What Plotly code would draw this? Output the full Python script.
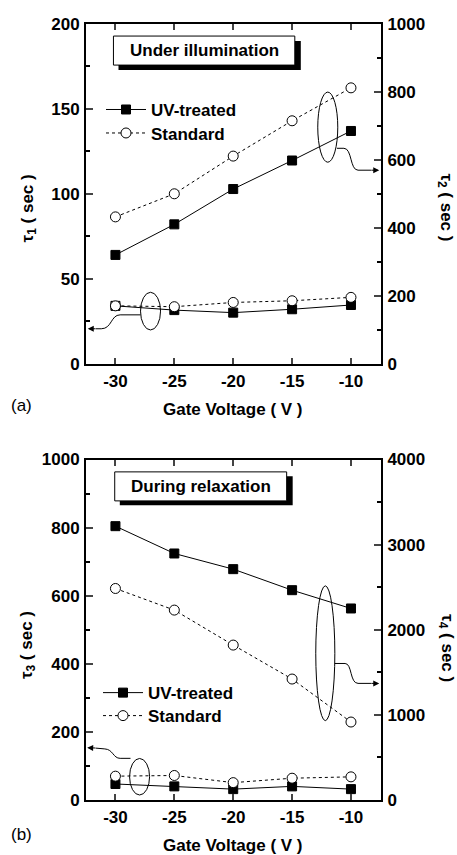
import plotly.graph_objects as go

# ---------------- data ----------------
gate_voltage = [-30, -25, -20, -15, -10]

# panel (a): under illumination
tau1_uv = [34, 31.5, 30, 32, 34.5]      # left axis
tau1_std = [34, 33.5, 36, 37, 39]
tau2_uv = [320, 410, 514, 598, 685]      # right axis
tau2_std = [432, 500, 611, 715, 812]

# panel (b): during relaxation
tau3_uv = [47, 40, 32, 40, 32]           # left axis
tau3_std = [70, 72, 51, 64, 68]
tau4_uv = [3217, 2896, 2712, 2465, 2250] # right axis
tau4_std = [2485, 2231, 1820, 1421, 916]

x_ticks = [-30, -25, -20, -15, -10]
x_ticklabels = ["-30", "-25", "-20", "-15", "-10"]
y1_ticks = [0, 50, 100, 150, 200]
y2_ticks = [0, 200, 400, 600, 800, 1000]
y3_ticks = [0, 200, 400, 600, 800, 1000]
y4_ticks = [0, 1000, 2000, 3000, 4000]

FONT = "Liberation Sans"
W, H = 457, 855
ML, MR, MT, MB = 86, 76, 23.5, 55
PH = H - MT - MB
PW = W - ML - MR


def py2paper(py):  # screen px -> paper
    return min(1.0, max(-1.0, (H - MB - py) / PH))


def px2paper(px):
    return (px - ML) / PW


uv_line = dict(color="black", width=1)
std_line = dict(color="black", width=1, dash="dot")
uv_marker = dict(symbol="square", size=9, color="black", line=dict(color="black", width=1))
std_marker = dict(symbol="circle", size=10, color="white", line=dict(color="black", width=1))

fig = go.Figure()

# panel (a)
fig.add_trace(go.Scatter(x=gate_voltage, y=tau2_uv, mode="lines+markers", name="UV-treated",
                         line=uv_line, marker=uv_marker, xaxis="x", yaxis="y2", legend="legend"))
fig.add_trace(go.Scatter(x=gate_voltage, y=tau2_std, mode="lines+markers", name="Standard",
                         line=std_line, marker=std_marker, xaxis="x", yaxis="y2", legend="legend3"))
fig.add_trace(go.Scatter(x=gate_voltage, y=tau1_uv, mode="lines+markers", name="UV-treated",
                         line=uv_line, marker=uv_marker, xaxis="x", yaxis="y", showlegend=False))
fig.add_trace(go.Scatter(x=gate_voltage, y=tau1_std, mode="lines+markers", name="Standard",
                         line=std_line, marker=std_marker, xaxis="x", yaxis="y", showlegend=False))

# panel (b)
fig.add_trace(go.Scatter(x=gate_voltage, y=tau4_uv, mode="lines+markers", name="UV-treated",
                         line=uv_line, marker=uv_marker, xaxis="x2", yaxis="y4", legend="legend2"))
fig.add_trace(go.Scatter(x=gate_voltage, y=tau4_std, mode="lines+markers", name="Standard",
                         line=std_line, marker=std_marker, xaxis="x2", yaxis="y4", legend="legend4"))
fig.add_trace(go.Scatter(x=gate_voltage, y=tau3_uv, mode="lines+markers", name="UV-treated",
                         line=uv_line, marker=uv_marker, xaxis="x2", yaxis="y3", showlegend=False))
fig.add_trace(go.Scatter(x=gate_voltage, y=tau3_std, mode="lines+markers", name="Standard",
                         line=std_line, marker=std_marker, xaxis="x2", yaxis="y3", showlegend=False))

tickfont = dict(family=FONT, size=17, color="black", weight="bold")


def bold(vals):
    return ["<b>%s</b>" % v for v in vals]


dom_a = [py2paper(363.3), 1.0]
dom_b = [0.0, py2paper(459.3)]


def xax(anchor):
    return dict(domain=[0, 1], anchor=anchor, range=[-32.5, -7.45], tickvals=x_ticks,
                ticktext=bold(x_ticklabels),
                ticks="inside", ticklen=6, tickwidth=1.5, showline=True, linewidth=2,
                linecolor="black", mirror="ticks", showgrid=False, zeroline=False,
                tickfont=tickfont, ticklabelstandoff=1)


def yax(domain, rng, tvals, minor, side="left", overlaying=None, anchor=None):
    d = dict(domain=domain, range=rng, tickvals=tvals, ticktext=bold(tvals),
             ticks="inside", ticklen=7,
             tickwidth=1.5, showline=True, linewidth=2, linecolor="black", showgrid=False,
             zeroline=False, tickfont=tickfont, side=side, ticklabelstandoff=1,
             minor=dict(dtick=minor, tick0=0, ticks="inside", ticklen=4, tickwidth=1.5,
                        tickcolor="black", showgrid=False))
    if overlaying:
        d["overlaying"] = overlaying
    if anchor:
        d["anchor"] = anchor
    return d


legend_font = dict(family=FONT, size=17, color="black", weight="bold")


def leg(px, py):
    return dict(x=px2paper(px), y=py2paper(py), xanchor="left", yanchor="middle",
                bgcolor="rgba(0,0,0,0)", font=legend_font, itemwidth=40, tracegroupgap=0)


fig.update_layout(
    width=W, height=H,
    margin=dict(l=ML, r=MR, t=MT, b=MB),
    paper_bgcolor="white", plot_bgcolor="white",
    font=dict(family=FONT, color="black"),
    xaxis=xax("y"),
    xaxis2=xax("y3"),
    yaxis=yax(dom_a, [0, 200], y1_ticks, 25, anchor="x"),
    yaxis2=yax(dom_a, [0, 1000], y2_ticks, 100, side="right", overlaying="y", anchor="x"),
    yaxis3=yax(dom_b, [0, 1000], y3_ticks, 100, anchor="x2"),
    yaxis4=yax(dom_b, [0, 4000], y4_ticks, 500, side="right", overlaying="y3", anchor="x2"),
    legend=leg(101, 109.5),
    legend3=leg(101, 133),
    legend2=leg(98, 693),
    legend4=leg(98, 716),
)

shapes = []
annotations = []

# text boxes with drop shadow
for xr, yr, sh, wb, txt, tx, ty in [
    ("x", "y", (-29.74, 172.9, -14.26, 190.0), (-30.17, 175.8, -14.77, 192.9),
     "Under illumination", -22.45, 184.4),
    ("x2", "y3", (-29.63, 865.9, -14.95, 951.0), (-30.06, 878.5, -15.46, 963.7),
     "During relaxation", -22.76, 921.0),
]:
    shapes.append(dict(type="rect", xref=xr, yref=yr, x0=sh[0], y0=sh[1], x1=sh[2], y1=sh[3],
                       fillcolor="black", line=dict(width=0)))
    shapes.append(dict(type="rect", xref=xr, yref=yr, x0=wb[0], y0=wb[1], x1=wb[2], y1=wb[3],
                       fillcolor="white", line=dict(color="black", width=1)))
    annotations.append(dict(xref=xr, yref=yr, x=tx, y=ty, text=txt, showarrow=False,
                            xanchor="center", yanchor="middle",
                            font=dict(family=FONT, size=17, color="black", weight="bold")))

# ellipses
for xr, yr, x0, x1, y0, y1 in [
    ("x", "y", -12.82, -11.12, 118.6, 159.9),
    ("x", "y", -27.87, -26.17, 19.8, 42.0),
    ("x2", "y3", -12.99, -11.37, 233, 629),
    ("x2", "y3", -28.80, -27.10, 14.7, 122),
]:
    shapes.append(dict(type="circle", xref=xr, yref=yr, x0=x0, x1=x1, y0=y0, y1=y1,
                       line=dict(color="black", width=1)))

# curved connectors
shapes.append(dict(type="path", xref="x", yref="y",
                   path="M -11.19,126.8 L -10.6,126.8 C -9.9,126.8 -10.1,113.9 -9.4,113.9 L -8.3,113.9",
                   line=dict(color="black", width=1)))
shapes.append(dict(type="path", xref="x", yref="y",
                   path="M -27.87,28.7 L -29.6,28.7 C -30.4,28.7 -30.3,20.5 -31.2,20.5 L -31.7,20.5",
                   line=dict(color="black", width=1)))
shapes.append(dict(type="path", xref="x2", yref="y3",
                   path="M -11.37,401 L -10.5,401 C -9.9,401 -10.1,342.5 -9.4,342.5 L -8.3,342.5",
                   line=dict(color="black", width=1)))
shapes.append(dict(type="path", xref="x2", yref="y3",
                   path="M -28.72,122.4 L -29.6,122.4 C -30.2,122.4 -30.2,148.8 -30.9,150.0 L -31.7,152.5",
                   line=dict(color="black", width=1)))

# arrow heads
for xr, yr, hx, hy, tx, ty in [
    ("x", "y", -7.6, 113.9, -8.4, 113.9),
    ("x", "y", -32.35, 20.5, -31.6, 20.5),
    ("x2", "y3", -7.6, 342.5, -8.4, 342.5),
    ("x2", "y3", -32.4, 153.5, -31.6, 152.6),
]:
    annotations.append(dict(xref=xr, yref=yr, x=hx, y=hy, axref=xr, ayref=yr, ax=tx, ay=ty,
                            text="", showarrow=True, arrowhead=2, arrowsize=1.2, arrowwidth=1,
                            arrowcolor="black"))

# axis titles
title_font = dict(family=FONT, size=17, color="black", weight="bold")
for txt, px, py in [("Gate Voltage ( V )", 232.5, 409), ("Gate Voltage ( V )", 232.5, 846)]:
    annotations.append(dict(xref="paper", yref="paper", x=px2paper(px), y=py2paper(py),
                            xanchor="center", yanchor="middle",
                            text=txt, showarrow=False, font=title_font))
for txt, px, py, ang in [
    ("τ<sub>1</sub> ( sec )", 29, 208, -90),
    ("τ<sub>2</sub> ( sec )", 445, 207, 90),
    ("τ<sub>3</sub> ( sec )", 28, 645, -90),
    ("τ<sub>4</sub> ( sec )", 446, 648, 90),
]:
    annotations.append(dict(xref="paper", yref="paper", x=px2paper(px), y=py2paper(py),
                            xanchor="center", yanchor="middle",
                            text=txt, showarrow=False, textangle=ang, font=title_font))

# panel labels
for txt, px, py in [("(a)", 21, 405), ("(b)", 21, 835)]:
    annotations.append(dict(xref="paper", yref="paper", x=px2paper(px), y=py2paper(py),
                            xanchor="center", yanchor="middle",
                            text=txt, showarrow=False,
                            font=dict(family=FONT, size=17, color="black")))

fig.update_layout(shapes=shapes, annotations=annotations)

fig.write_html(
    "out.html",
    config={"displayModeBar": False},
    post_script="document.body.style.margin='0';document.body.style.overflow='hidden';",
)
